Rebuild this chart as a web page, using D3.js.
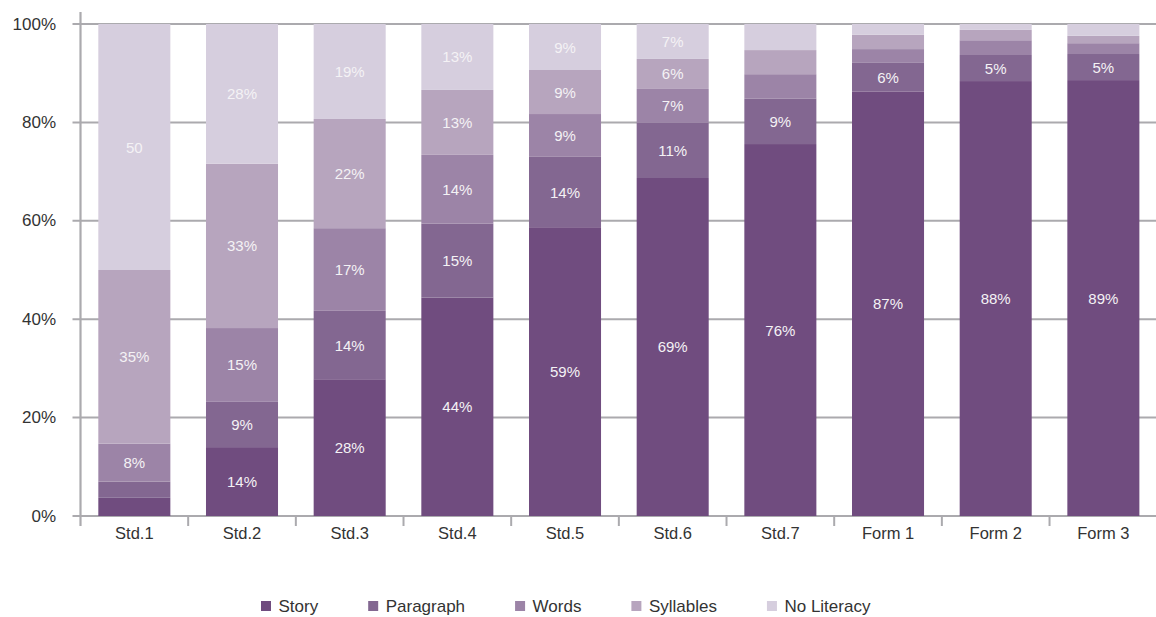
<!DOCTYPE html>
<html>
<head>
<meta charset="utf-8">
<script src="https://cdn.jsdelivr.net/npm/d3@7"></script>
<style>
  html, body { margin: 0; padding: 0; background: #fff; }
  svg { display: block; }
  text { font-family: "Liberation Sans", Arial, sans-serif; }
</style>
</head>
<body>
<svg id="chart" width="1156" height="617"></svg>
<script>
// ---- data ----
const categories = ["Std.1", "Std.2", "Std.3", "Std.4", "Std.5", "Std.6", "Std.7", "Form 1", "Form 2", "Form 3"];
const seriesNames = ["Story", "Paragraph", "Words", "Syllables", "No Literacy"];

const story      = [3.7, 14.0, 27.8, 44.4, 58.7, 68.7, 75.6, 86.3, 88.4, 88.6];
const paragraph  = [3.3,  9.3, 13.9, 15.0, 14.3, 11.2,  9.2,  5.8,  5.3,  5.3];
const words      = [7.7, 14.9, 16.8, 14.0,  8.7,  6.9,  5.0,  2.8,  3.0,  2.2];
const syllables  = [35.3, 33.4, 22.2, 13.2, 8.95, 6.1,  4.9,  2.9,  2.1,  1.5];
const noLiteracy = [50.0, 28.4, 19.3, 13.4, 9.35, 7.1,  5.3,  2.2,  1.2,  2.4];

const storyLabels      = ["", "14%", "28%", "44%", "59%", "69%", "76%", "87%", "88%", "89%"];
const paragraphLabels  = ["", "9%", "14%", "15%", "14%", "11%", "9%", "6%", "5%", "5%"];
const wordsLabels      = ["8%", "15%", "17%", "14%", "9%", "7%", "", "", "", ""];
const syllablesLabels  = ["35%", "33%", "22%", "13%", "9%", "6%", "", "", "", ""];
const noLiteracyLabels = ["50", "28%", "19%", "13%", "9%", "7%", "", "", "", ""];

const yTicks = [0, 20, 40, 60, 80, 100];
const yTickLabels = ["0%", "20%", "40%", "60%", "80%", "100%"];

const colors = ["#704c7f", "#836791", "#9c84a7", "#b7a5be", "#d6cede"];

// ---- build table ----
const seriesValues = [story, paragraph, words, syllables, noLiteracy];
const seriesLabels = [storyLabels, paragraphLabels, wordsLabels, syllablesLabels, noLiteracyLabels];
const table = categories.map((c, i) => {
  const row = { cat: c };
  seriesNames.forEach((s, k) => { row[s] = seriesValues[k][i]; });
  return row;
});
const stacked = d3.stack().keys(seriesNames)(table);

// ---- layout ----
const svg = d3.select("#chart");
const plotLeft = 80.5, plotTop = 24, plotBottom = 516;
const step = 107.67;
const plotRight = plotLeft + step * categories.length;

const x = d3.scaleBand().domain(categories).range([plotLeft, plotRight])
  .paddingInner(0.331).paddingOuter(0.1655);
const y = d3.scaleLinear().domain([0, 100]).range([plotBottom, plotTop]);

const grey = "#abaaae";

// gridlines
svg.append("g").selectAll("line").data(yTicks).join("line")
  .attr("x1", plotLeft - 8).attr("x2", 1156)
  .attr("y1", d => y(d)).attr("y2", d => y(d))
  .attr("stroke", grey).attr("stroke-width", 2);

// y axis line
svg.append("line").attr("x1", plotLeft).attr("x2", plotLeft)
  .attr("y1", 12).attr("y2", plotBottom + 10)
  .attr("stroke", grey).attr("stroke-width", 2.2);

// x ticks at band boundaries
const boundaries = categories.map((c) => x(c) - x.step() * x.paddingInner() / 2);
svg.append("g").selectAll("line").data(boundaries.slice(1)).join("line")
  .attr("x1", d => d).attr("x2", d => d)
  .attr("y1", plotBottom).attr("y2", plotBottom + 10)
  .attr("stroke", grey).attr("stroke-width", 2);

// y labels
svg.append("g").selectAll("text").data(yTicks).join("text")
  .attr("x", 56).attr("y", d => y(d))
  .attr("text-anchor", "end").attr("dominant-baseline", "central")
  .attr("font-size", 17).attr("fill", "#333")
  .text((d, i) => yTickLabels[i]);

// x labels
svg.append("g").selectAll("text").data(categories).join("text")
  .attr("x", d => x(d) + x.bandwidth() / 2).attr("y", 533)
  .attr("text-anchor", "middle").attr("dominant-baseline", "central")
  .attr("font-size", 16.5).attr("fill", "#333")
  .text(d => d);

// bars
const layers = svg.append("g").selectAll("g").data(stacked).join("g")
  .attr("fill", (d, k) => colors[k]);
layers.selectAll("rect").data(d => d).join("rect")
  .attr("x", d => x(d.data.cat))
  .attr("width", x.bandwidth())
  .attr("y", d => y(d[1]))
  .attr("height", d => y(d[0]) - y(d[1]));

// bar labels
const lbl = svg.append("g");
stacked.forEach((layer, k) => {
  lbl.append("g").selectAll("text").data(layer).join("text")
    .attr("x", d => x(d.data.cat) + x.bandwidth() / 2)
    .attr("y", d => (y(d[0]) + y(d[1])) / 2)
    .attr("text-anchor", "middle").attr("dominant-baseline", "central")
    .attr("font-size", 15).attr("fill", "#f4f2f5")
    .text((d, i) => seriesLabels[k][i]);
});

// legend
const legend = svg.append("g");
let lx = 261;
seriesNames.forEach((s, k) => {
  legend.append("rect").attr("x", lx).attr("y", 601).attr("width", 10).attr("height", 10)
    .attr("fill", colors[k]);
  const t = legend.append("text").attr("x", lx + 17.5).attr("y", 606)
    .attr("dominant-baseline", "central")
    .attr("font-size", 17).attr("fill", "#333").text(s);
  lx += 17.5 + t.node().getComputedTextLength() + 50;
});
</script>
</body>
</html>
